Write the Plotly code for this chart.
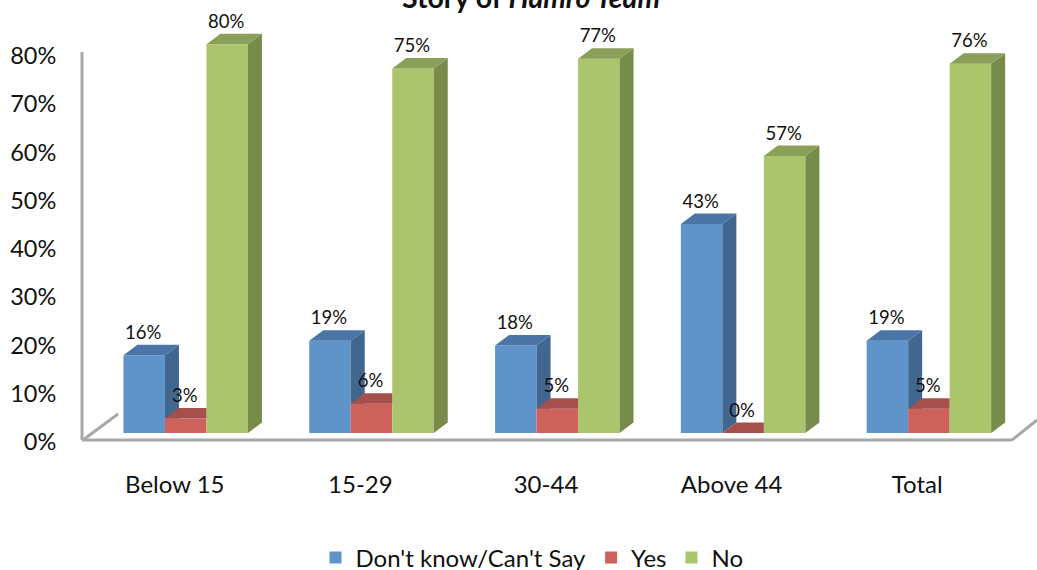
import plotly.graph_objects as go

categories = ["Below 15", "15-29", "30-44", "Above 44", "Total"]
dont_know = [16, 19, 18, 43, 19]
yes = [3, 6, 5, 0, 5]
no = [80, 75, 77, 57, 76]
series_names = ["Don't know/Can't Say", "Yes", "No"]
y_ticks = [0, 10, 20, 30, 40, 50, 60, 70, 80]

FONT = "Lato"
W, H = 1037, 570
L, R, T, B = 65, 1037, 0, 450

# pixel calibration of the scales
STEP = 185.8
BAR_PX = 41.5
X0_BARS = 185.7          # centre of first bar group
STEP_T = 185.6
X0_T = 174.8             # centre of first tick label
PXY_BAR = 4.86
Y0_BAR = 433
PXY_T = 4.825
Y0_T = 442
DX = 14 / STEP
DY = 10.5 / PXY_BAR
W_BAR = BAR_PX / STEP

front = ["#5F94CA", "#CD625D", "#ABC56D"]
top = ["#4A75A6", "#A5504A", "#8A9F58"]
side = ["#41668F", "#8E4440", "#778B4A"]

series = [dont_know, yes, no]
fig = go.Figure()

xs = [[i + (k - 1) * W_BAR for i in range(len(categories))] for k in range(3)]

# front faces
for k, vals in enumerate(series):
    fig.add_trace(go.Bar(x=xs[k], y=vals, width=W_BAR, name=series_names[k],
                         marker=dict(color=front[k], line=dict(width=0)),
                         xaxis="x2", yaxis="y2", hoverinfo="skip"))

# depth faces, painted left to right, trimmed where the next front covers them
for i in range(len(categories)):
    for k, vals in enumerate(series):
        v = vals[i]
        nv = series[k + 1][i] if k < 2 else 0
        xc = xs[k][i]
        xl, xr = xc - W_BAR / 2, xc + W_BAR / 2
        if v + DY > nv:
            if nv >= DY:
                px = [xr, xr + DX, xr + DX, xr]
                py = [nv, nv, v + DY, v]
            else:
                px = [xr, xr + DX, xr + DX, xr]
                py = [0, DY, v + DY, v]
            fig.add_trace(go.Scatter(x=px, y=py, fill="toself", mode="lines",
                                     line=dict(width=0), fillcolor=side[k],
                                     xaxis="x2", yaxis="y2", showlegend=False,
                                     hoverinfo="skip"))
        if nv > v:
            px = [xl, xr, xr, xl + DX]
        else:
            px = [xl, xr, xr + DX, xl + DX]
        py = [v, v, v + DY, v + DY]
        fig.add_trace(go.Scatter(x=px, y=py, fill="toself", mode="lines",
                                 line=dict(width=0), fillcolor=top[k],
                                 xaxis="x2", yaxis="y2", showlegend=False,
                                 hoverinfo="skip"))

# value labels
for k, vals in enumerate(series):
    fig.add_trace(go.Scatter(x=[x - 1 / STEP for x in xs[k]], y=[v + 21 / PXY_BAR for v in vals],
                             mode="text",
                             text=[f"{v}%" for v in vals], textposition="middle center",
                             textfont=dict(family=FONT, size=18.5, color="#111111"),
                             xaxis="x2", yaxis="y2", showlegend=False, hoverinfo="skip"))


def px_x(p):
    return (p - L) / (R - L)


def px_y(p):
    return (B - p) / (B - T)


# carrier for the visible tick axes
fig.add_trace(go.Scatter(x=[0, 4], y=[0, 80], mode="markers", marker=dict(opacity=0),
                         showlegend=False, hoverinfo="skip"))

AXC = "#A8A8A8"
walls = [((82, 52), (82, 440)), ((82, 440), (1012, 440)),
         ((83, 440), (118, 414)), ((1012, 440), (1037, 420))]
shapes = [dict(type="line", xref="paper", yref="paper", layer="below",
               x0=px_x(a[0]), y0=px_y(a[1]), x1=px_x(b[0]), y1=px_y(b[1]),
               line=dict(color=AXC, width=3)) for a, b in walls]

fig.update_layout(
    width=W, height=H, autosize=False,
    margin=dict(l=L, r=W - R, t=T, b=H - B, autoexpand=False),
    paper_bgcolor="white", plot_bgcolor="white",
    barmode="overlay", shapes=shapes,
    font=dict(family=FONT, color="#111111"),
    xaxis=dict(range=[(L - X0_T) / STEP_T, (R - X0_T) / STEP_T], tickmode="array",
               tickvals=list(range(len(categories))), ticktext=categories,
               showgrid=False, zeroline=False, showline=False,
               ticks="outside", ticklen=13, tickcolor="rgba(0,0,0,0)",
               tickfont=dict(family=FONT, size=24, color="#111111")),
    yaxis=dict(range=[(Y0_T - B) / PXY_T, (Y0_T - T) / PXY_T], tickmode="array",
               tickvals=y_ticks, ticktext=[f"{t}%" for t in y_ticks],
               showgrid=False, zeroline=False, showline=False,
               ticks="outside", ticklen=3, tickcolor="rgba(0,0,0,0)",
               tickfont=dict(family=FONT, size=23.5, color="#111111")),
    xaxis2=dict(range=[(L - X0_BARS) / STEP, (R - X0_BARS) / STEP], overlaying="x",
                visible=False),
    yaxis2=dict(range=[(Y0_BAR - B) / PXY_BAR, (Y0_BAR - T) / PXY_BAR], overlaying="y",
                visible=False),
    legend=dict(orientation="h", xanchor="center", yanchor="middle",
                x=px_x(532), y=px_y(558), font=dict(family=FONT, size=24, color="#111111"),
                bgcolor="rgba(0,0,0,0)"),
    annotations=[dict(text="<b>Story of <i>Hamro Team</i></b>", xref="paper", yref="paper",
                      x=px_x(531), y=px_y(-3), xanchor="center", yanchor="middle",
                      showarrow=False, font=dict(family=FONT, size=28.5, color="#111111"))],
)

fig.write_html("out.html", config={"displayModeBar": False},
               post_script="document.body.style.margin='0';document.documentElement.style.overflow='hidden';")
